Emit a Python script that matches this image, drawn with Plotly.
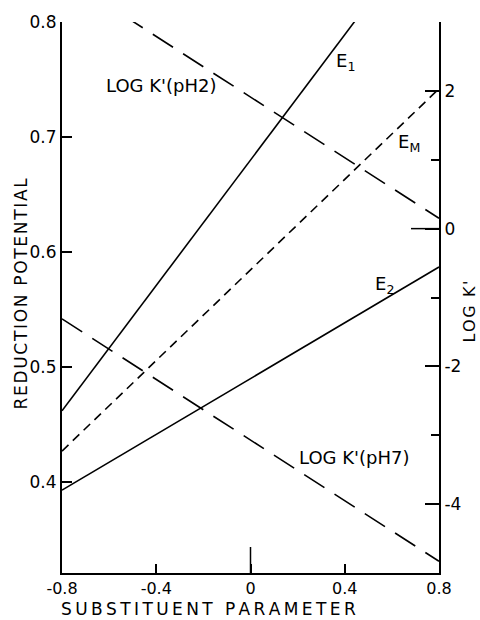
import plotly.graph_objects as go

# ---- data ----
sub_param = [-0.8, 0.8]
e1 = [0.462, 0.898]
e_m = [0.427, 0.742]
e2 = [0.393, 0.587]
logk_ph2 = [3.67, 0.15]
logk_ph7 = [-1.31, -4.83]

x_ticks = [-0.8, -0.4, 0, 0.4, 0.8]
x_ticktext = ["-0.8", "-0.4", "0", "0.4", "0.8"]
y_ticks = [0.4, 0.5, 0.6, 0.7, 0.8]
y_ticktext = ["0.4", "0.5", "0.6", "0.7", "0.8"]
y2_ticks = [-4, -2, 0, 2]
y2_ticktext = ["-4", "-2", "0", "2"]
y2_minor = [-5, -3, -1, 1, 3]

FONT = "DejaVu Sans"
W, H = 480, 620
L, R, T, B = 62, 41, 19, 47
PX0, PX1, PY0, PY1 = L, W - R, T, H - B

def px(xp):
    return (xp - PX0) / (PX1 - PX0)

def py(yp):
    return (PY1 - yp) / (PY1 - PY0)

def spaced(s, sep="\u2009"):
    return sep.join(s)

fig = go.Figure()
line_solid = dict(color="black", width=1.6)
fig.add_trace(go.Scatter(x=sub_param, y=e1, mode="lines", line=line_solid))
fig.add_trace(go.Scatter(x=sub_param, y=e2, mode="lines", line=line_solid))
fig.add_trace(go.Scatter(x=sub_param, y=e_m, mode="lines",
                         line=dict(color="black", width=1.6, dash="9px,6px")))
fig.add_trace(go.Scatter(x=sub_param, y=logk_ph2, mode="lines", yaxis="y2",
                         line=dict(color="black", width=1.6, dash="24px,12px")))
fig.add_trace(go.Scatter(x=sub_param, y=logk_ph7, mode="lines", yaxis="y2",
                         line=dict(color="black", width=1.6, dash="24px,12px")))

tickfont = dict(family=FONT, size=17, color="black")
fig.update_layout(
    width=W, height=H,
    margin=dict(l=L, r=R, t=T, b=B, pad=0),
    paper_bgcolor="white", plot_bgcolor="white",
    showlegend=False,
    xaxis=dict(range=[-0.8, 0.8], tickvals=x_ticks, ticktext=x_ticktext,
               ticks="inside", ticklen=9, tickwidth=1.5, tickcolor="black",
               showline=True, linecolor="black", linewidth=2, showgrid=False,
               zeroline=False, tickfont=dict(family=FONT, size=16, color="black")),
    yaxis=dict(range=[0.321, 0.8], tickvals=y_ticks, ticktext=y_ticktext,
               ticks="inside", ticklen=10, tickwidth=1.5, tickcolor="black",
               showline=True, linecolor="black", linewidth=2, showgrid=False,
               zeroline=False, tickfont=tickfont),
    yaxis2=dict(range=[-5, 3], overlaying="y", side="right",
                tickvals=y2_ticks, ticktext=y2_ticktext,
                ticks="inside", ticklen=14, tickwidth=1.5, tickcolor="black",
                minor=dict(tickvals=y2_minor, ticks="inside", ticklen=8,
                           tickwidth=1.5, tickcolor="black"),
                showline=True, linecolor="black", linewidth=2, showgrid=False,
                zeroline=False, tickfont=tickfont),
)

# longer tick marks at zero
fig.add_shape(type="line", xref="x", yref="paper", x0=0, x1=0,
              ysizemode="pixel", yanchor=0, y0=0, y1=26,
              line=dict(color="black", width=1.5))
fig.add_shape(type="line", xref="paper", yref="y2", y0=0, y1=0,
              xsizemode="pixel", xanchor=1, x0=-28, x1=0,
              line=dict(color="black", width=1.5))

labfont = dict(family=FONT, size=18, color="black")
notes = [
    ("LOG K'(pH2)", 161, 83),
    ("LOG K'(pH7)", 354, 457),
    ("E<sub>1</sub>", 345, 59),
    ("E<sub>M</sub>", 409, 141),
    ("E<sub>2</sub>", 384, 283),
]
for text, xp, yp in notes:
    fig.add_annotation(text=text, xref="paper", yref="paper", x=px(xp), y=py(yp),
                       showarrow=False, font=labfont, xanchor="center", yanchor="middle")

titlefont = dict(family=FONT, size=17, color="black")
fig.add_annotation(text=spaced("SUBSTITUENT PARAMETER"), xref="paper", yref="paper",
                   x=px(208), y=py(609), showarrow=False, font=titlefont,
                   xanchor="center", yanchor="middle")
fig.add_annotation(text=spaced("REDUCTION POTENTIAL", "\u200a"), xref="paper", yref="paper",
                   x=px(21), y=py(292), showarrow=False, font=titlefont,
                   textangle=-90, xanchor="center", yanchor="middle")
fig.add_annotation(text=spaced("LOG K'", "\u200a"), xref="paper", yref="paper",
                   x=px(469), y=py(310), showarrow=False,
                   font=dict(family=FONT, size=16, color="black"),
                   textangle=-90, xanchor="center", yanchor="middle")

fig.write_html("out.html")
